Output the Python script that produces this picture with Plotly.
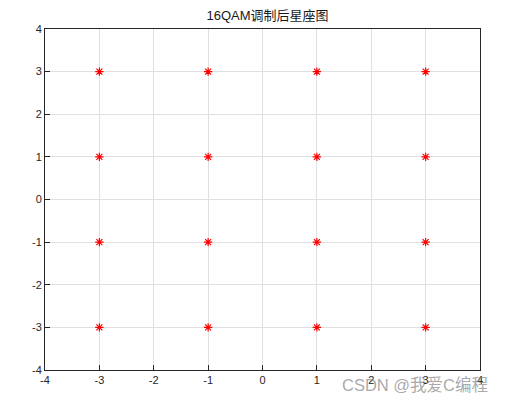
import plotly.graph_objects as go

# Constellation points (16QAM)
i_vals = [-3, -3, -3, -3, -1, -1, -1, -1, 1, 1, 1, 1, 3, 3, 3, 3]
q_vals = [-3, -1, 1, 3, -3, -1, 1, 3, -3, -1, 1, 3, -3, -1, 1, 3]
tick_vals = [-4, -3, -2, -1, 0, 1, 2, 3, 4]
title_text = "16QAM调制后星座图"
watermark = "CSDN @我爱C编程"

fig = go.Figure()
fig.add_trace(go.Scatter(
    x=i_vals, y=q_vals, mode="markers",
    marker=dict(symbol="asterisk-open", size=7, color="red",
                line=dict(color="red", width=1.2)),
    showlegend=False,
))

axis_common = dict(
    range=[-4, 4], tickvals=tick_vals, ticktext=[str(v) for v in tick_vals],
    showgrid=True, gridcolor="#e0e0e0", gridwidth=1,
    zeroline=False, showline=True, linecolor="#262626", linewidth=1,
    mirror=True, ticks="inside", ticklen=5, tickcolor="#262626",
    tickfont=dict(family="Liberation Sans, Arial, sans-serif", size=11, color="#262626"),
)
fig.update_xaxes(**axis_common)
fig.update_yaxes(**axis_common)

fig.update_layout(
    width=499, height=395,
    margin=dict(l=37, r=27, t=21, b=33),
    paper_bgcolor="white", plot_bgcolor="white",
    title=dict(text=title_text, x=0.52, xanchor="center", y=0.98, yanchor="middle",
               font=dict(family="Liberation Sans, Noto Sans CJK SC, sans-serif", size=13, color="#1a1a1a")),
    annotations=[dict(
        text=watermark, xref="paper", yref="paper", x=1.023, y=-0.044,
        xanchor="right", yanchor="middle", showarrow=False,
        font=dict(family="Liberation Sans, Noto Sans CJK SC, sans-serif", size=16.5,
                  color="rgba(130,130,130,0.7)"),
    )],
)

fig.write_html("out.html")
